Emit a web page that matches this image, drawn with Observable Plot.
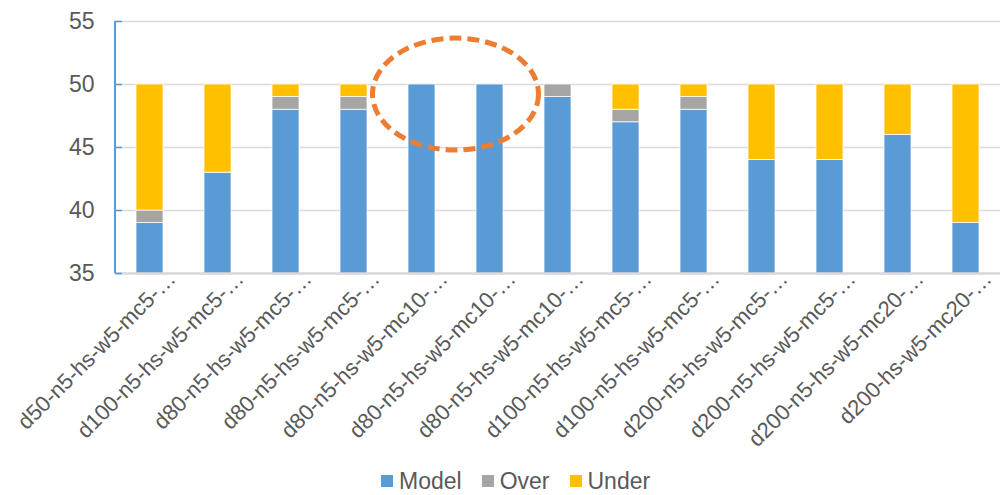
<!DOCTYPE html>
<html>
<head>
<meta charset="utf-8">
<script src="https://cdn.jsdelivr.net/npm/d3@7"></script>
<script src="https://cdn.jsdelivr.net/npm/@observablehq/plot@0.6"></script>
<style>
  html, body { margin: 0; padding: 0; background: #fff; }
  #wrap { position: relative; width: 1000px; height: 495px; font-family: "Liberation Sans", Arial, sans-serif; }
  #legend { position: absolute; left: 381px; top: 470px; display: flex; align-items: center; font-size: 23px; line-height: 22px; color: #595959; }
  #legend .item { display: flex; align-items: center; margin-right: 20px; }
  #legend .sw { width: 12px; height: 12px; margin-right: 6px; }
</style>
</head>
<body>
<div id="wrap"></div>
<script>
// Run configurations (labels are truncated in the axis, as in the source sheet)
const labels = [
  "d50-n5-hs-w5-mc5-…",
  "d100-n5-hs-w5-mc5-…",
  "d80-n5-hs-w5-mc5-…",
  "d80-n5-hs-w5-mc5-…",
  "d80-n5-hs-w5-mc10-…",
  "d80-n5-hs-w5-mc10-…",
  "d80-n5-hs-w5-mc10-…",
  "d100-n5-hs-w5-mc5-…",
  "d100-n5-hs-w5-mc5-…",
  "d200-n5-hs-w5-mc5-…",
  "d200-n5-hs-w5-mc5-…",
  "d200-n5-hs-w5-mc20-…",
  "d200-hs-w5-mc20-…"
];
const model = [39, 43, 48, 48, 50, 50, 49, 47, 48, 44, 44, 46, 39];
const over  = [1, 0, 1, 1, 0, 0, 1, 1, 1, 0, 0, 0, 0];
const under = [10, 7, 1, 1, 0, 0, 0, 2, 1, 6, 6, 4, 11];
const series = ["Model", "Over", "Under"];
const colors = ["#5b9bd5", "#a5a5a5", "#ffc000"];
const yTicks = [35, 40, 45, 50, 55];

const rows = [];
labels.forEach((l, i) => {
  rows.push({i, series: "Model", value: model[i]});
  rows.push({i, series: "Over", value: over[i]});
  rows.push({i, series: "Under", value: under[i]});
});

const plot = Plot.plot({
  width: 1000,
  height: 462,
  marginLeft: 115,
  marginRight: 0,
  marginTop: 21,
  marginBottom: 189,
  style: {fontFamily: "Liberation Sans, Arial, sans-serif", color: "#595959", background: "#fff"},
  x: {domain: d3.range(labels.length), paddingInner: 0.6, paddingOuter: 0.3},
  y: {domain: [35, 55]},
  color: {domain: series, range: colors},
  marks: [
    Plot.gridY(yTicks, {stroke: "#d9d9d9", strokeOpacity: 1, strokeWidth: 1.5}),
    Plot.barY(rows, {x: "i", y: "value", fill: "series", order: series, stroke: "#fff", strokeWidth: 0.75, clip: true}),
    Plot.ruleY([35], {stroke: "#d9d9d9", strokeWidth: 2.5}),
    Plot.axisY(yTicks, {tickSize: -7, tickPadding: 28, stroke: "#5b9bd5", strokeWidth: 1.5, fontSize: 23, fill: "#595959", label: null}),
    Plot.axisX({tickSize: 0, tickRotate: -45, tickFormat: i => labels[i], fontSize: 22, fill: "#595959", dx: 22, dy: -10, label: null})
  ]
});

// left axis line and the dashed highlight around the two perfect runs
const svg = d3.select(plot);
const xs = plot.scale("x"), ys = plot.scale("y");
svg.append("line")
  .attr("x1", 115).attr("x2", 115)
  .attr("y1", ys.apply(55)).attr("y2", ys.apply(35))
  .attr("stroke", "#5b9bd5").attr("stroke-width", 2);
const bw = xs.bandwidth;
const cx = (xs.apply(4) + xs.apply(5) + bw) / 2;
svg.append("ellipse")
  .attr("cx", cx).attr("cy", ys.apply(49.2))
  .attr("rx", 83).attr("ry", 56)
  .attr("fill", "none").attr("stroke", "#ed7d31")
  .attr("stroke-width", 5).attr("stroke-dasharray", "12 6");

const wrap = document.getElementById("wrap");
wrap.appendChild(plot);

const legend = document.createElement("div");
legend.id = "legend";
series.forEach((s, k) => {
  const it = document.createElement("div");
  it.className = "item";
  it.innerHTML = `<div class="sw" style="background:${colors[k]}"></div><span>${s}</span>`;
  legend.appendChild(it);
});
wrap.appendChild(legend);
</script>
</body>
</html>
